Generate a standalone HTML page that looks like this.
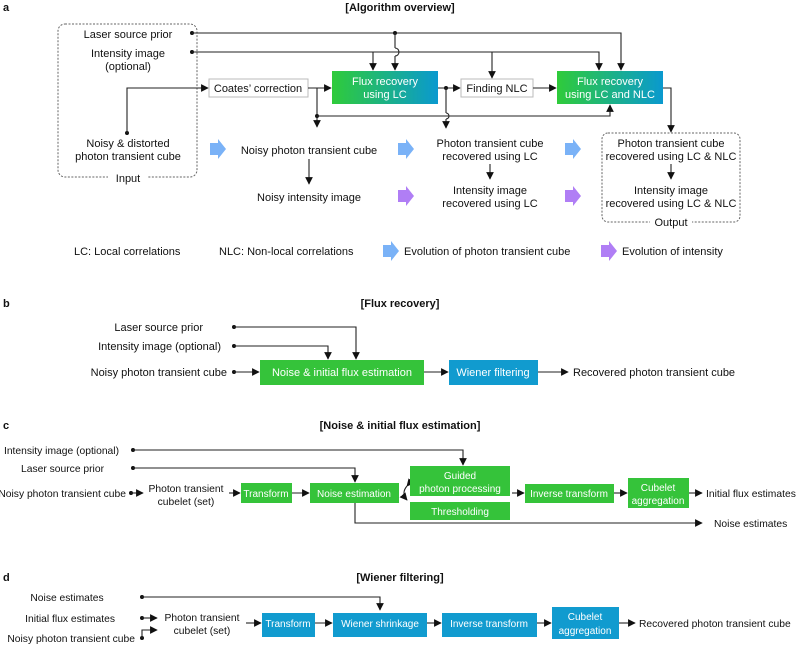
<!DOCTYPE html>
<html><head><meta charset="utf-8"><style>
body{margin:0;background:#fff}
svg{display:block;font-family:"Liberation Sans",sans-serif;font-size:11px;fill:#111}
.b{font-weight:bold}
line,polyline,path.l{stroke:#222;stroke-width:1.1;fill:none}
.t{fill:#fff;font-size:11px}
.cd{font-size:10.3px}
.cd .t{font-size:10px}
.cd .b{font-size:11px}
</style></head><body>
<svg width="799" height="645" viewBox="0 0 799 645" xmlns="http://www.w3.org/2000/svg">
<defs>
<marker id="a" viewBox="0 0 10 10" refX="9" refY="5" markerWidth="7" markerHeight="7" orient="auto"><path d="M0,0L10,5L0,10z" fill="#111"/></marker>
<linearGradient id="g" x1="0" x2="1"><stop offset="0" stop-color="#2fcb3a"/><stop offset="1" stop-color="#0a99cf"/></linearGradient>
<g id="ba"><path d="M0,-6h8v-4l8,10l-8,10v-4h-8z" fill="#7ab2f7"/></g>
<g id="pa"><path d="M0,-6h8v-4l8,10l-8,10v-4h-8z" fill="#b07ef5"/></g>
</defs>
<g fill="#111">
<!-- panel a -->
<text x="3" y="11" class="b">a</text>
<text x="400" y="11" class="b" text-anchor="middle">[Algorithm overview]</text>
<rect x="58" y="24" width="139" height="153" rx="7" fill="none" stroke="#666" stroke-dasharray="2,1.5"/>
<rect x="108" y="171" width="40" height="12" fill="#fff"/>
<text x="128" y="182" text-anchor="middle">Input</text>
<text x="128" y="38" text-anchor="middle">Laser source prior</text>
<text x="128" y="57" text-anchor="middle">Intensity image</text>
<text x="128" y="70" text-anchor="middle">(optional)</text>
<text x="128" y="147" text-anchor="middle">Noisy &amp; distorted</text>
<text x="128" y="160" text-anchor="middle">photon transient cube</text>
<circle cx="192" cy="33" r="2"/><circle cx="192" cy="52" r="2"/><circle cx="127" cy="133" r="2"/>
<polyline points="192,33 621,33 621,70" marker-end="url(#a)"/>
<circle cx="395" cy="33" r="2"/>
<line x1="395" y1="33" x2="395" y2="48"/><path class="l" d="M395,48 a4,4 0 0 1 0,8"/><line x1="395" y1="56" x2="395" y2="70" marker-end="url(#a)"/>
<polyline points="192,52 599,52 599,70" marker-end="url(#a)"/>
<line x1="373" y1="52" x2="373" y2="70" marker-end="url(#a)"/>
<line x1="492" y1="52" x2="492" y2="78" marker-end="url(#a)"/>
<polyline points="127,133 127,88 208,88" marker-end="url(#a)"/>
<rect x="209" y="79" width="99" height="18" fill="#fff" stroke="#bbb"/>
<text x="258" y="92" text-anchor="middle">Coates’ correction</text>
<line x1="308" y1="88" x2="331" y2="88" marker-end="url(#a)"/>
<rect x="332" y="71" width="106" height="33" fill="url(#g)"/>
<text x="385" y="85" text-anchor="middle" class="t">Flux recovery</text>
<text x="385" y="98" text-anchor="middle" class="t">using LC</text>
<line x1="317" y1="88" x2="317" y2="127" marker-end="url(#a)"/>
<circle cx="317" cy="116" r="2"/>
<polyline points="317,116 610,116 610,105" marker-end="url(#a)"/>
<line x1="438" y1="88" x2="460" y2="88" marker-end="url(#a)"/>
<circle cx="446" cy="88" r="2"/>
<line x1="446" y1="88" x2="446" y2="113"/><path class="l" d="M446,113 a3,3 0 0 1 0,6"/><line x1="446" y1="119" x2="446" y2="128" marker-end="url(#a)"/>
<rect x="461" y="79" width="72" height="18" fill="#fff" stroke="#bbb"/>
<text x="497" y="92" text-anchor="middle">Finding NLC</text>
<line x1="533" y1="88" x2="556" y2="88" marker-end="url(#a)"/>
<rect x="557" y="71" width="106" height="33" fill="url(#g)"/>
<text x="610" y="85" text-anchor="middle" class="t">Flux recovery</text>
<text x="610" y="98" text-anchor="middle" class="t">using LC and NLC</text>
<polyline points="663,88 671,88 671,132" marker-end="url(#a)"/>
<rect x="602" y="133" width="138" height="89" rx="6" fill="none" stroke="#666" stroke-dasharray="2,1.5"/>
<rect x="650" y="216" width="42" height="12" fill="#fff"/>
<text x="671" y="226" text-anchor="middle">Output</text>
<use href="#ba" x="210" y="149"/>
<text x="309" y="154" text-anchor="middle">Noisy photon transient cube</text>
<line x1="309" y1="159" x2="309" y2="184" marker-end="url(#a)"/>
<text x="309" y="201" text-anchor="middle">Noisy intensity image</text>
<use href="#ba" x="398" y="149"/><use href="#pa" x="398" y="196"/>
<text x="490" y="147" text-anchor="middle">Photon transient cube</text>
<text x="490" y="160" text-anchor="middle">recovered using LC</text>
<line x1="490" y1="164" x2="490" y2="179" marker-end="url(#a)"/>
<text x="490" y="194" text-anchor="middle">Intensity image</text>
<text x="490" y="207" text-anchor="middle">recovered using LC</text>
<use href="#ba" x="565" y="149"/><use href="#pa" x="565" y="196"/>
<text x="671" y="147" text-anchor="middle">Photon transient cube</text>
<text x="671" y="160" text-anchor="middle">recovered using LC &amp; NLC</text>
<line x1="671" y1="164" x2="671" y2="179" marker-end="url(#a)"/>
<text x="671" y="194" text-anchor="middle">Intensity image</text>
<text x="671" y="207" text-anchor="middle">recovered using LC &amp; NLC</text>
<text x="74" y="255">LC: Local correlations</text>
<text x="219" y="255">NLC: Non-local correlations</text>
<use href="#ba" x="383" y="251"/>
<text x="404" y="255">Evolution of photon transient cube</text>
<use href="#pa" x="601" y="251"/>
<text x="622" y="255">Evolution of intensity</text>

<!-- panel b -->
<text x="3" y="307" class="b">b</text>
<text x="400" y="307" class="b" text-anchor="middle">[Flux recovery]</text>
<text x="203" y="331" text-anchor="end">Laser source prior</text>
<text x="221" y="350" text-anchor="end">Intensity image (optional)</text>
<text x="227" y="376" text-anchor="end">Noisy photon transient cube</text>
<circle cx="234" cy="327" r="2"/><circle cx="234" cy="346" r="2"/><circle cx="234" cy="372" r="2"/>
<polyline points="234,327 356,327 356,359" marker-end="url(#a)"/>
<polyline points="234,346 328,346 328,359" marker-end="url(#a)"/>
<line x1="234" y1="372" x2="259" y2="372" marker-end="url(#a)"/>
<rect x="260" y="360" width="164" height="25" fill="#35c33a"/>
<text x="342" y="376" text-anchor="middle" class="t">Noise &amp; initial flux estimation</text>
<line x1="424" y1="372" x2="448" y2="372" marker-end="url(#a)"/>
<rect x="449" y="360" width="89" height="25" fill="#119bcf"/>
<text x="493" y="376" text-anchor="middle" class="t">Wiener filtering</text>
<line x1="538" y1="372" x2="568" y2="372" marker-end="url(#a)"/>
<text x="573" y="376">Recovered photon transient cube</text>
</g>

<g fill="#111" class="cd">
<!-- panel c -->
<text x="3" y="429" class="b">c</text>
<text x="400" y="429" class="b" text-anchor="middle">[Noise &amp; initial flux estimation]</text>
<text x="119" y="454" text-anchor="end">Intensity image (optional)</text>
<text x="104" y="472" text-anchor="end">Laser source prior</text>
<text x="126" y="497" text-anchor="end">Noisy photon transient cube</text>
<circle cx="133" cy="450" r="2"/><circle cx="133" cy="468" r="2"/><circle cx="131" cy="493" r="2"/>
<polyline points="133,450 463,450 463,465" marker-end="url(#a)"/>
<polyline points="133,468 355,468 355,482" marker-end="url(#a)"/>
<line x1="131" y1="493" x2="143" y2="493" marker-end="url(#a)"/>
<text x="186" y="492" text-anchor="middle">Photon transient</text>
<text x="186" y="505" text-anchor="middle">cubelet (set)</text>
<line x1="229" y1="493" x2="240" y2="493" marker-end="url(#a)"/>
<rect x="241" y="483" width="51" height="20" fill="#35c33a"/>
<text x="266" y="497" text-anchor="middle" class="t">Transform</text>
<line x1="292" y1="493" x2="309" y2="493" marker-end="url(#a)"/>
<rect x="310" y="483" width="89" height="20" fill="#35c33a"/>
<text x="354" y="497" text-anchor="middle" class="t">Noise estimation</text>
<path class="l" d="M407,486 Q401,493 407,500" marker-start="url(#a)" marker-end="url(#a)"/>
<rect x="410" y="466" width="100" height="30" fill="#35c33a"/>
<text x="460" y="479" text-anchor="middle" class="t">Guided</text>
<text x="460" y="492" text-anchor="middle" class="t">photon processing</text>
<rect x="410" y="502" width="100" height="18" fill="#35c33a"/>
<text x="460" y="515" text-anchor="middle" class="t">Thresholding</text>
<line x1="512" y1="493" x2="524" y2="493" marker-end="url(#a)"/>
<rect x="525" y="484" width="89" height="19" fill="#35c33a"/>
<text x="569" y="497" text-anchor="middle" class="t">Inverse transform</text>
<line x1="614" y1="493" x2="627" y2="493" marker-end="url(#a)"/>
<rect x="628" y="478" width="61" height="30" fill="#35c33a"/>
<text x="658" y="491" text-anchor="middle" class="t">Cubelet</text>
<text x="658" y="504" text-anchor="middle" class="t">aggregation</text>
<line x1="689" y1="493" x2="702" y2="493" marker-end="url(#a)"/>
<text x="706" y="497">Initial flux estimates</text>
<polyline points="355,503 355,523 702,523" marker-end="url(#a)"/>
<text x="714" y="527">Noise estimates</text>

<!-- panel d -->
<text x="3" y="581" class="b">d</text>
<text x="400" y="581" class="b" text-anchor="middle">[Wiener filtering]</text>
<text x="67" y="601" text-anchor="middle">Noise estimates</text>
<text x="115" y="622" text-anchor="end">Initial flux estimates</text>
<text x="135" y="642" text-anchor="end">Noisy photon transient cube</text>
<circle cx="142" cy="597" r="2"/><circle cx="142" cy="618" r="2"/><circle cx="142" cy="638" r="2"/>
<polyline points="142,597 380,597 380,610" marker-end="url(#a)"/>
<line x1="142" y1="618" x2="157" y2="618" marker-end="url(#a)"/>
<polyline points="142,638 142,630 157,630" marker-end="url(#a)"/>
<text x="202" y="621" text-anchor="middle">Photon transient</text>
<text x="202" y="634" text-anchor="middle">cubelet (set)</text>
<line x1="246" y1="623" x2="261" y2="623" marker-end="url(#a)"/>
<rect x="262" y="613" width="53" height="24" fill="#119bcf"/>
<text x="288" y="627" text-anchor="middle" class="t">Transform</text>
<line x1="315" y1="623" x2="332" y2="623" marker-end="url(#a)"/>
<rect x="333" y="613" width="94" height="24" fill="#119bcf"/>
<text x="380" y="627" text-anchor="middle" class="t">Wiener shrinkage</text>
<line x1="427" y1="623" x2="441" y2="623" marker-end="url(#a)"/>
<rect x="442" y="613" width="95" height="24" fill="#119bcf"/>
<text x="489" y="627" text-anchor="middle" class="t">Inverse transform</text>
<line x1="537" y1="623" x2="551" y2="623" marker-end="url(#a)"/>
<rect x="552" y="607" width="67" height="32" fill="#119bcf"/>
<text x="585" y="620" text-anchor="middle" class="t">Cubelet</text>
<text x="585" y="634" text-anchor="middle" class="t">aggregation</text>
<line x1="619" y1="623" x2="635" y2="623" marker-end="url(#a)"/>
<text x="639" y="627">Recovered photon transient cube</text>
</g>
</svg>
</body></html>
